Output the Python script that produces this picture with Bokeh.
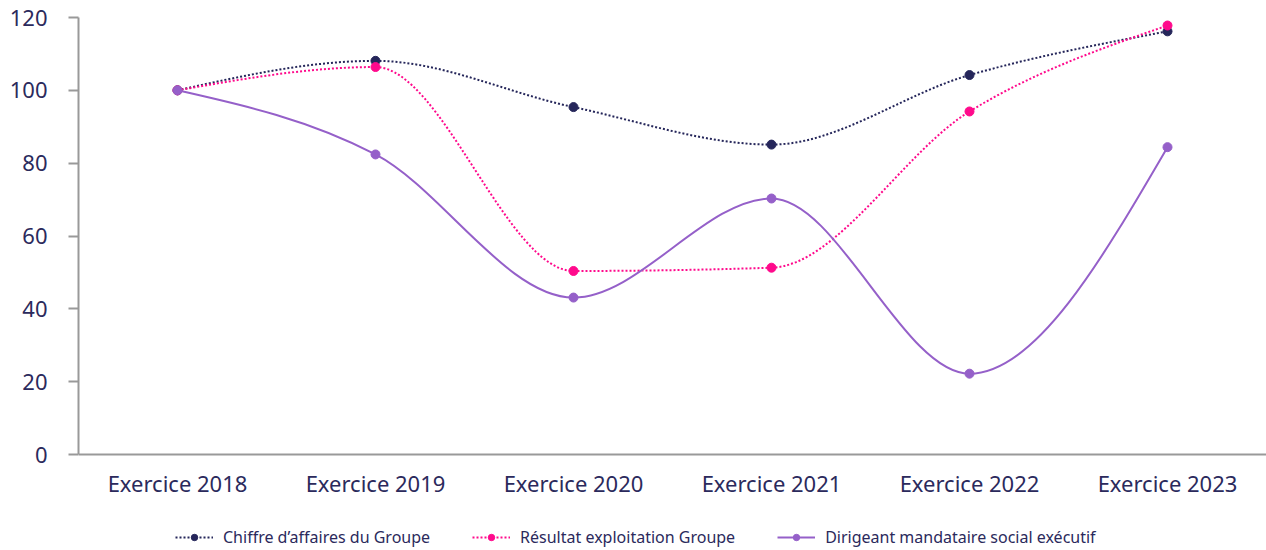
import numpy as np
from bokeh.plotting import figure
from bokeh.models import Legend, LegendItem, FixedTicker, Range1d
from bokeh.embed import file_html
from bokeh.resources import INLINE

categories = ["Exercice 2018", "Exercice 2019", "Exercice 2020",
              "Exercice 2021", "Exercice 2022", "Exercice 2023"]
chiffre = [100, 108.1, 95.4, 85.1, 104.2, 116.2]
resultat = [100, 106.4, 50.4, 51.3, 94.2, 117.8]
dirigeant = [100, 82.4, 43.1, 70.3, 22.2, 84.4]
y_ticks = [0, 20, 40, 60, 80, 100, 120]

series = [
    ("Chiffre d\u2019affaires du Groupe", chiffre, "#25265a", "2 2"),
    ("R\u00e9sultat exploitation Groupe", resultat, "#ff0a8c", "2 2"),
    ("Dirigeant mandataire social ex\u00e9cutif", dirigeant, "#9560c9", "solid"),
]

TEXT = "#2b2a5c"
FONT = "Noto Sans"


def monotone_controls(ys):
    ys = np.asarray(ys, dtype=float)
    n = len(ys)
    s = np.diff(ys)
    t = np.zeros(n)
    for i in range(1, n - 1):
        s0, s1 = s[i - 1], s[i]
        p = (s0 + s1) / 2.0
        t[i] = (np.sign(s0) + np.sign(s1)) * min(abs(s0), abs(s1), 0.5 * abs(p))
    t[0] = (3 * s[0] - t[1]) / 2.0
    t[-1] = (3 * s[-1] - t[-2]) / 2.0
    x = np.arange(n, dtype=float)
    return dict(
        x0=x[:-1], y0=ys[:-1], x1=x[1:], y1=ys[1:],
        cx0=x[:-1] + 1 / 3, cy0=ys[:-1] + t[:-1] / 3,
        cx1=x[1:] - 1 / 3, cy1=ys[1:] - t[1:] / 3,
    )


# frame spans 17..550 px; 120 units = 437 px, so the bottom of the frame is -26.35
p = figure(
    frame_width=1188, frame_height=533,
    x_range=Range1d(-0.5, 5.5), y_range=Range1d(-26.35, 120),
    output_backend="svg", toolbar_location=None,
    min_border_left=78, min_border_right=0, min_border_top=17, min_border_bottom=0,
)
p.outline_line_color = None
p.grid.grid_line_color = None

items = []
xs = list(range(len(categories)))
for label, ys, color, dash in series:
    c = monotone_controls(ys)
    p.bezier(x0=c["x0"], y0=c["y0"], x1=c["x1"], y1=c["y1"],
             cx0=c["cx0"], cy0=c["cy0"], cx1=c["cx1"], cy1=c["cy1"],
             line_color=color, line_width=2, line_dash=dash)
    # legend-only line (NaN data: nothing drawn in the plot)
    dummy = p.line([np.nan, np.nan], [np.nan, np.nan],
                   line_color=color, line_width=2, line_dash=dash)
    sc = p.scatter(xs, ys, size=9, fill_color=color, line_color=color)
    items.append(LegendItem(label=label, renderers=[dummy, sc]))

# axes
p.xaxis.fixed_location = 0
p.xaxis.ticker = FixedTicker(ticks=xs)
p.xaxis.major_label_overrides = {i: c for i, c in enumerate(categories)}
p.xaxis.major_tick_line_color = None
p.xaxis.minor_tick_line_color = None
p.xaxis.axis_line_color = "#999999"
p.xaxis.axis_line_width = 2
p.xaxis.major_label_text_font = FONT
p.xaxis.major_label_text_font_size = "22px"
p.xaxis.major_label_text_color = TEXT
p.xaxis.major_label_standoff = 7

p.yaxis.ticker = FixedTicker(ticks=y_ticks)
p.yaxis.bounds = (0, 120)
p.yaxis.axis_line_color = "#999999"
p.yaxis.axis_line_width = 2
p.yaxis.major_tick_line_color = "#999999"
p.yaxis.major_tick_line_width = 2
p.yaxis.major_tick_out = 10
p.yaxis.major_tick_in = 0
p.yaxis.minor_tick_line_color = None
p.yaxis.major_label_text_font = FONT
p.yaxis.major_label_text_font_size = "22px"
p.yaxis.major_label_text_color = TEXT
p.yaxis.major_label_standoff = 21

legend = Legend(items=items, orientation="horizontal", location=(97, 2))
legend.border_line_color = None
legend.background_fill_alpha = 0
legend.label_text_font = FONT
legend.label_text_font_size = "16px"
legend.label_text_color = TEXT
legend.glyph_width = 38
legend.glyph_height = 16
legend.label_standoff = 10
legend.spacing = 42
legend.padding = 0
legend.margin = 0
p.add_layout(legend, "center")

open("out.html", "w").write(file_html(p, INLINE))
